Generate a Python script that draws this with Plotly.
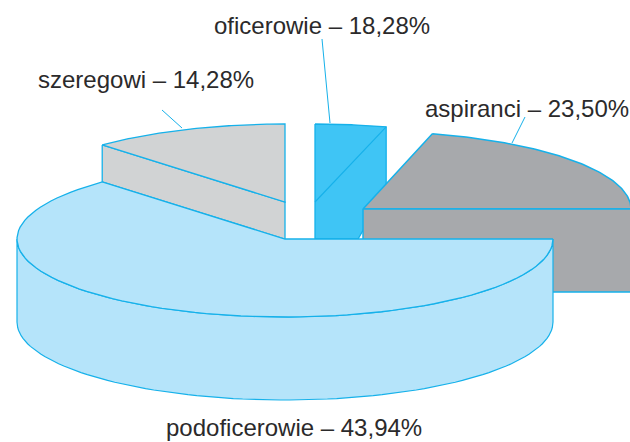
import numpy as np
import plotly.graph_objects as go

# Data
categories = ["szeregowi", "oficerowie", "aspiranci", "podoficerowie"]
values = ["14,28", "18,28", "23,50", "43,94"]
# Angles as drawn in the picture: ellipse parameter at which each wedge starts and ends (degrees)
start_angle = [133.0, 90.0, 75.0, 0.0]
end_angle = [90.0, 74.6, 0.0, -227.0]

# Styles and geometry
fill = {"szeregowi": "#d1d3d4", "oficerowie": "#3fc5f5", "aspiranci": "#a7a9ac", "podoficerowie": "#b5e4fa"}
stroke = "#16b1ea"
ink = "#2b2a2b"
RX, RY = 268.0, 78.0
apex = {"szeregowi": (285, 202), "oficerowie": (315, 202), "aspiranci": (363, 209), "podoficerowie": (285, 239)}
depth = {"szeregowi": 37, "oficerowie": 37, "aspiranci": 83, "podoficerowie": 83}
label_pos = {"szeregowi": (145.5, 79), "oficerowie": (322, 25), "aspiranci": (527, 108), "podoficerowie": (294, 427)}
leaders = {"szeregowi": ((162, 110), (182, 128)), "oficerowie": (((322, 39)), (330, 123)), "aspiranci": ((525, 117), (512, 143))}

fig = go.Figure()


def arc(c, a0, a1):
    t = np.radians(np.linspace(a0, a1, 90))
    return c[0] + RX * np.cos(t), c[1] - RY * np.sin(t)


def poly(x, y, color, width=1.3):
    fig.add_trace(go.Scatter(x=list(x), y=list(y), mode="lines", fill="toself", fillcolor=color,
                             line=dict(color=stroke, width=width), hoverinfo="skip", showlegend=False))


def line(x, y, width=1.1):
    fig.add_trace(go.Scatter(x=list(x), y=list(y), mode="lines", line=dict(color=stroke, width=width),
                             hoverinfo="skip", showlegend=False))


geo = dict(zip(categories, zip(start_angle, end_angle)))

# szeregowi
n = "szeregowi"
c, d = apex[n], depth[n]
a0, a1 = geo[n]
ax, ay = arc(c, a0, a1)
poly([ax[0], c[0], c[0], ax[0], ax[0]], [ay[0], c[1], c[1] + d, ay[0] + d, ay[0]], fill[n])
poly(list(ax) + [c[0], ax[0]], list(ay) + [c[1], ay[0]], fill[n])

# oficerowie
n = "oficerowie"
c = apex[n]
a0, a1 = geo[n]
ax, ay = arc(c, a0, a1)
bottom = apex["podoficerowie"][1]
poly(list(ax) + [ax[-1], 358, c[0], ax[0]], list(ay) + [190, bottom, bottom, ay[0]], fill[n])
line([c[0], ax[-1]], [c[1], ay[-1]])

# aspiranci
n = "aspiranci"
c, d = apex[n], depth[n]
a0, a1 = geo[n]
ax, ay = arc(c, a0, a1)
poly(list(ax) + [c[0], ax[0]], list(ay) + [c[1], ay[0]], fill[n], 1.5)
poly([c[0], ax[-1], ax[-1], c[0], c[0]], [c[1], c[1], c[1] + d, c[1] + d, c[1]], fill[n], 1.5)

# podoficerowie
n = "podoficerowie"
c, d = apex[n], depth[n]
a0, a1 = geo[n]
sx, sy = arc(c, 0, -180)
bx, by = arc((c[0], c[1] + d), -180, 0)
poly(list(sx) + list(bx) + [sx[0]], list(sy) + list(by) + [sy[0]], fill[n], 1.2)
ax, ay = arc(c, a0, a1)
poly(list(ax) + [c[0], ax[0]], list(ay) + [c[1], ay[0]], fill[n], 1.3)

# leaders
for k, (p, q) in leaders.items():
    line([p[0], q[0]], [p[1], q[1]], 1.0)

# labels
for cat, val in zip(categories, values):
    fig.add_annotation(x=label_pos[cat][0], y=label_pos[cat][1], text=f"{cat} – {val}%", showarrow=False,
                       font=dict(family="Liberation Sans", size=24, color=ink), xanchor="center", yanchor="middle")

fig.update_layout(width=630, height=442, margin=dict(l=0, r=0, t=0, b=0), paper_bgcolor="white",
                  plot_bgcolor="white", showlegend=False,
                  xaxis=dict(range=[0, 630], visible=False, fixedrange=True),
                  yaxis=dict(range=[442, 0], visible=False, fixedrange=True))

fig.write_html("out.html", config={"displayModeBar": False},
               post_script="document.body.style.margin='0';document.body.style.overflow='hidden';")
